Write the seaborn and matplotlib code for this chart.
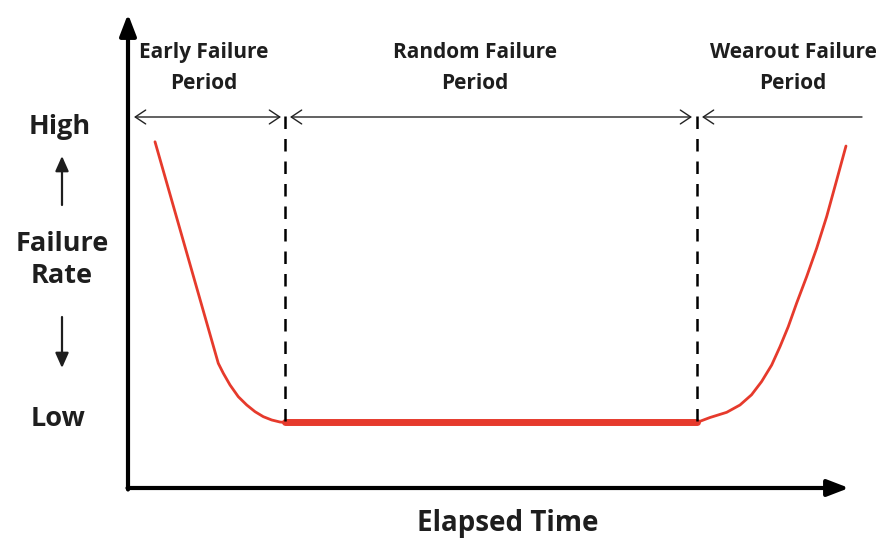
import matplotlib
matplotlib.use("Agg")
import matplotlib.pyplot as plt
import seaborn as sns
import numpy as np

# ---- data (time and failure-rate units) ----
early_t = [3.75, 12.54, 13.24, 14.17, 15.32, 16.49, 17.64, 18.79, 19.96, 21.11, 21.8]
early_r = [73.2, 26.36, 24.25, 21.78, 19.30, 17.55, 16.14, 15.08, 14.38, 13.95, 13.85]
random_t = [21.8, 79.0]
random_r = [13.85, 13.85]
wear_t = [79.0, 80.83, 83.15, 85.0, 86.6, 88.0, 89.4, 90.56, 91.7, 92.87, 94.26,
          95.65, 97.04, 98.43, 99.72]
wear_r = [13.85, 14.9, 16.0, 17.55, 19.7, 22.5, 26.0, 29.9, 34.1, 39.1, 44.7,
          50.7, 57.4, 65.1, 72.3]
boundaries = [21.8, 79.0]
period_labels = ["Early Failure\nPeriod", "Random Failure\nPeriod", "Wearout Failure\nPeriod"]
y_labels = ["High", "Failure\nRate", "Low"]
x_label = "Elapsed Time"

# ---- figure ----
sns.set_style("white")
plt.rcParams['font.family'] = ['Open Sans', 'DejaVu Sans']
W, H = 888, 539
fig = plt.figure(figsize=(W / 100, H / 100), dpi=100)
ax = fig.add_axes([0, 0, 1, 1])
X0, XS = 128, 7.2      # pixel of t=0, pixels per unit
Y0, YS = 488, 4.73     # pixel of r=0, pixels per unit
ax.set_xlim((0 - X0) / XS, (W - X0) / XS)
ax.set_ylim((Y0 - H) / YS, (Y0 - 0) / YS)
ax.axis('off')

def tx(px):
    return (px - X0) / XS

def ry(py):
    return (Y0 - py) / YS

red = "#e63a2c"
sns.lineplot(x=early_t, y=early_r, sort=False, estimator=None, color=red, lw=2.0, ax=ax)
sns.lineplot(x=wear_t, y=wear_r, sort=False, estimator=None, color=red, lw=2.0, ax=ax)
sns.lineplot(x=random_t, y=random_r, sort=False, estimator=None, color=red, lw=5.0, ax=ax)

# dashed boundaries
ax.vlines(boundaries, ry(421), ry(108), colors="black", lw=1.8,
          linestyles=[(0, (5, 4))], zorder=3)

# axes arrows
ax.annotate("", xy=(0, ry(14)), xytext=(0, ry(489.5)),
            arrowprops=dict(arrowstyle="-|>,head_length=1.3,head_width=0.5", lw=3,
                            color="black", mutation_scale=10, shrinkA=0, shrinkB=0))
ax.annotate("", xy=(tx(849), 0), xytext=(tx(127.5), 0),
            arrowprops=dict(arrowstyle="-|>,head_length=1.3,head_width=0.5", lw=3,
                            color="black", mutation_scale=10, shrinkA=0, shrinkB=0))

# period arrows
ya = ry(117)
astyle = dict(lw=1.0, color="#222222", mutation_scale=10, shrinkA=0, shrinkB=0)
ax.annotate("", xy=(tx(281), ya), xytext=(tx(134), ya),
            arrowprops=dict(arrowstyle="<->,head_length=0.75,head_width=0.5", **astyle))
ax.annotate("", xy=(tx(692), ya), xytext=(tx(290), ya),
            arrowprops=dict(arrowstyle="<->,head_length=0.75,head_width=0.5", **astyle))
ax.annotate("", xy=(tx(862), ya), xytext=(tx(702), ya),
            arrowprops=dict(arrowstyle="<-,head_length=0.75,head_width=0.5", **astyle))

tc = "#1e1e1e"
# period labels
for lbl, cx in zip(period_labels, [204, 475, 793]):
    fig.text(cx / W, 1 - 68 / H, lbl, ha="center", va="center", fontsize=15,
             fontweight="bold", color=tc, linespacing=1.6)

# y labels
fig.text(60 / W, 1 - 127 / H, y_labels[0], ha="center", va="center", fontsize=19.5,
         fontweight="bold", color=tc)
fig.text(62 / W, 1 - 260 / H, y_labels[1], ha="center", va="center", fontsize=19.5,
         fontweight="bold", color=tc, linespacing=1.3)
fig.text(58 / W, 1 - 419 / H, y_labels[2], ha="center", va="center", fontsize=19.5,
         fontweight="bold", color=tc)
ax.annotate("", xy=(62 / W, 1 - 156 / H), xytext=(62 / W, 1 - 205 / H),
            xycoords="figure fraction", textcoords="figure fraction",
            arrowprops=dict(arrowstyle="-|>,head_length=0.9,head_width=0.4", lw=1.6,
                            color=tc, mutation_scale=10, shrinkA=0, shrinkB=0))
ax.annotate("", xy=(62 / W, 1 - 368 / H), xytext=(62 / W, 1 - 317 / H),
            xycoords="figure fraction", textcoords="figure fraction",
            arrowprops=dict(arrowstyle="-|>,head_length=0.9,head_width=0.4", lw=1.6,
                            color=tc, mutation_scale=10, shrinkA=0, shrinkB=0))

# x label
fig.text(508 / W, 1 - 523 / H, x_label, ha="center", va="center", fontsize=20,
         fontweight="bold", color=tc)

fig.savefig("out.png", dpi=100)
